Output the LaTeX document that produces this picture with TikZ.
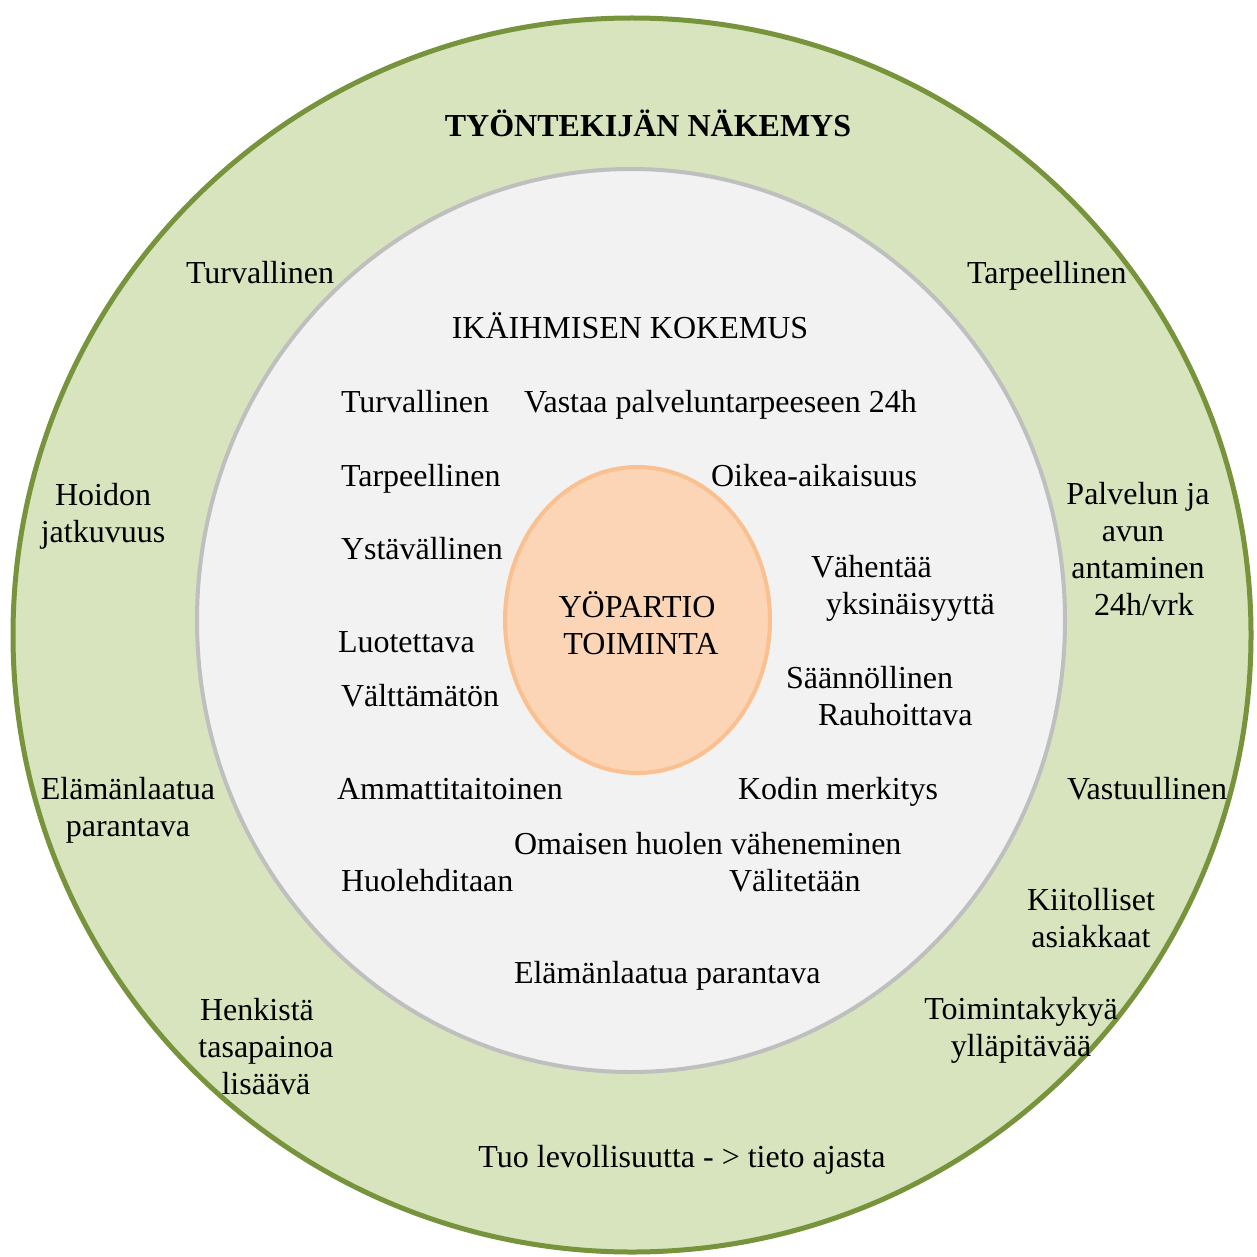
\documentclass[tikz,border=0pt]{standalone}
\usepackage{fontspec}
\setmainfont{Liberation Serif}
\definecolor{ringfill}{HTML}{D7E4BD}
\definecolor{ringline}{HTML}{77933C}
\definecolor{innerfill}{HTML}{F2F2F2}
\definecolor{innerline}{HTML}{BFBFBF}
\definecolor{corefill}{HTML}{FBD5B5}
\definecolor{coreline}{HTML}{FAC090}
\newcommand{\mlc}[1]{\begin{tabular}[t]{@{}c@{}}#1\end{tabular}}
\newcommand{\mll}[1]{\begin{tabular}[t]{@{}l@{}}#1\end{tabular}}
\tikzset{
  lbl/.style={inner sep=0pt, outer sep=0pt, font=\fontsize{32}{37}\selectfont},
  lw/.style={lbl, anchor=base west},
  lc/.style={lbl, anchor=base},
  ring/.style={fill=ringfill, draw=ringline, line width=5pt},
  innerring/.style={fill=innerfill, draw=innerline, line width=4pt},
  corering/.style={fill=corefill, draw=coreline, line width=4pt},
}
\begin{document}
\begin{tikzpicture}[x=1pt,y=-1pt]
\useasboundingbox (0,0) rectangle (1256,1257);
% rings
\path[ring] (632,635) ellipse [x radius=619pt, y radius=617pt];
\path[innerring] (631,620.5) ellipse [x radius=434pt, y radius=451.5pt];
\path[corering] (637.5,620) ellipse [x radius=132.5pt, y radius=153pt];

% outer ring texts
\node[lc, font=\fontsize{32}{37}\selectfont\bfseries] (title) at (648,137) {TYÖNTEKIJÄN NÄKEMYS};
\node[lw] (o1) at (186,283) {Turvallinen};
\node[lw] (o2) at (967,283) {Tarpeellinen};
\node[lc] (o3) at (103,505) {\mlc{Hoidon\\jatkuvuus}};
\node[lc] (o4) at (1138,504) {\mlc{Palvelun ja\\avun\hspace*{10pt}\\antaminen\\\hspace*{12pt}24h/vrk}};
\node[lc] (o5) at (128,799) {\mlc{Elämänlaatua\\parantava}};
\node[lw] (o6) at (1067,799) {Vastuullinen};
\node[lc] (o7) at (1091,910) {\mlc{Kiitolliset\\asiakkaat}};
\node[lc] (o8) at (1021,1019) {\mlc{Toimintakykyä\\ylläpitävää}};
\node[lc] (o9) at (266,1020) {\mlc{Henkistä\hspace*{18pt}\\tasapainoa\\lisäävä}};
\node[lc] (o10) at (682,1167) {Tuo levollisuutta - > tieto ajasta};

% inner circle texts
\node[lc] (ititle) at (630,338) {IKÄIHMISEN KOKEMUS};
\node[lw] (i1) at (341,412) {Turvallinen};
\node[lw] (i2) at (524,412) {Vastaa palveluntarpeeseen 24h};
\node[lw] (i3) at (341,486) {Tarpeellinen};
\node[lw] (i4) at (711,486) {Oikea-aikaisuus};
\node[lw] (i5) at (341,559) {Ystävällinen};
\node[lw] (i6) at (811,577) {\mll{Vähentää\\\hspace*{15pt}yksinäisyyttä}};
\node[lw] (i7) at (338,652) {Luotettava};
\node[lw] (i8) at (341,706) {Välttämätön};
\node[lw] (i9) at (786,688) {\mll{Säännöllinen\\\hspace*{32pt}Rauhoittava}};
\node[lw] (i10) at (337,799) {Ammattitaitoinen};
\node[lw] (i11) at (738,799) {Kodin merkitys};
\node[lw] (i12) at (514,854) {Omaisen huolen väheneminen};
\node[lw] (i13) at (341,891) {Huolehditaan};
\node[lw] (i14) at (729,891) {Välitetään};
\node[lw] (i15) at (514,983) {Elämänlaatua parantava};

% core
\node[lc] (core) at (637,617) {\mlc{YÖPARTIO\\\hspace*{8pt}TOIMINTA}};
\end{tikzpicture}
\end{document}
